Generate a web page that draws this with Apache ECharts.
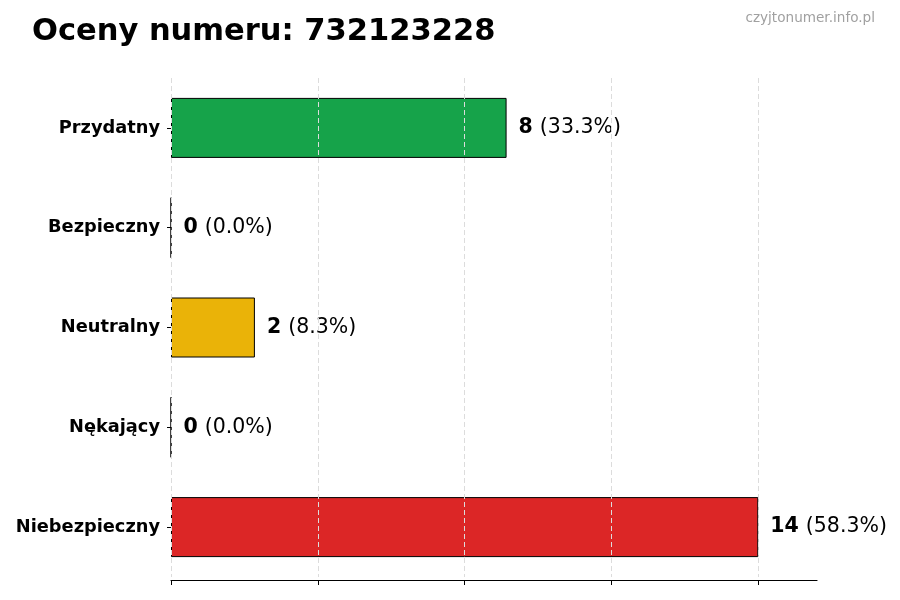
<!DOCTYPE html>
<html>
<head>
<meta charset="utf-8">
<script src="https://cdn.jsdelivr.net/npm/echarts@6/dist/echarts.min.js"></script>
<style>
  html, body { margin: 0; padding: 0; background: #fff; }
  #chart { width: 900px; height: 600px; }
</style>
</head>
<body>
<div id="chart"></div>
<script>
const categories = ['Przydatny', 'Bezpieczny', 'Neutralny', 'Nękający', 'Niebezpieczny']
const counts = [8, 0, 2, 0, 14]
const colors = ['#16a34a', '#16a34a', '#eab308', '#dc2626', '#dc2626']
const xTicks = [0, 3.5, 7, 10.5, 14]

const total = counts.reduce((a, b) => a + b, 0)
const font = 'DejaVu Sans'

let chart = echarts.init(document.getElementById('chart'))
chart.setOption({
  animation: false,
  textStyle: { fontFamily: font },
  title: [
    {
      text: 'Oceny numeru: 732123228',
      left: 27, top: 12,
      textStyle: { fontFamily: font, fontSize: 30.5, fontWeight: 'bold', color: '#000' }
    },
    {
      text: 'czyjtonumer.info.pl',
      right: 20, top: 6,
      textStyle: { fontFamily: font, fontSize: 13.6, fontWeight: 'normal', color: '#a0a0a0' }
    }
  ],
  grid: { left: 171, right: 83, top: 78, bottom: 23, containLabel: false },
  xAxis: {
    type: 'value',
    min: xTicks[0],
    max: 15.4,
    interval: xTicks[1] - xTicks[0],
    offset: 3,
    axisLine: { show: true, lineStyle: { color: '#000', width: 1.2 } },
    axisTick: { show: true, length: 5, customValues: xTicks, lineStyle: { color: '#000' } },
    axisLabel: { show: false },
    splitLine: { show: false }
  },
  yAxis: {
    type: 'category',
    data: categories,
    inverse: true,
    axisLine: { show: false },
    axisTick: { show: true, length: 4, alignWithLabel: true, lineStyle: { color: '#000' } },
    axisLabel: { margin: 11, fontSize: 17.8, fontWeight: 'bold', color: '#000', fontFamily: font },
    splitLine: { show: false }
  },
  series: [{
    type: 'bar',
    barWidth: 60,
    data: counts.map((v, i) => ({
      value: v,
      itemStyle: { color: colors[i], borderColor: '#000', borderWidth: 1 }
    })),
    label: {
      show: true,
      position: 'right',
      distance: 12,
      formatter: p => '{b|' + p.value + '}{n|(' + (p.value / total * 100).toFixed(1) + '%)}',
      rich: {
        b: { fontFamily: font, fontSize: 20.5, fontWeight: 'bold', color: '#000' },
        n: { fontFamily: font, fontSize: 20.5, color: '#000', padding: [0, 0, 0, 7] }
      }
    },
    markLine: {
      silent: true,
      symbol: 'none',
      label: { show: false },
      lineStyle: { color: '#dcdcdc', type: [5, 3], width: 1 },
      data: xTicks.map(t => ({ xAxis: t }))
    }
  }]
})
</script>
</body>
</html>
